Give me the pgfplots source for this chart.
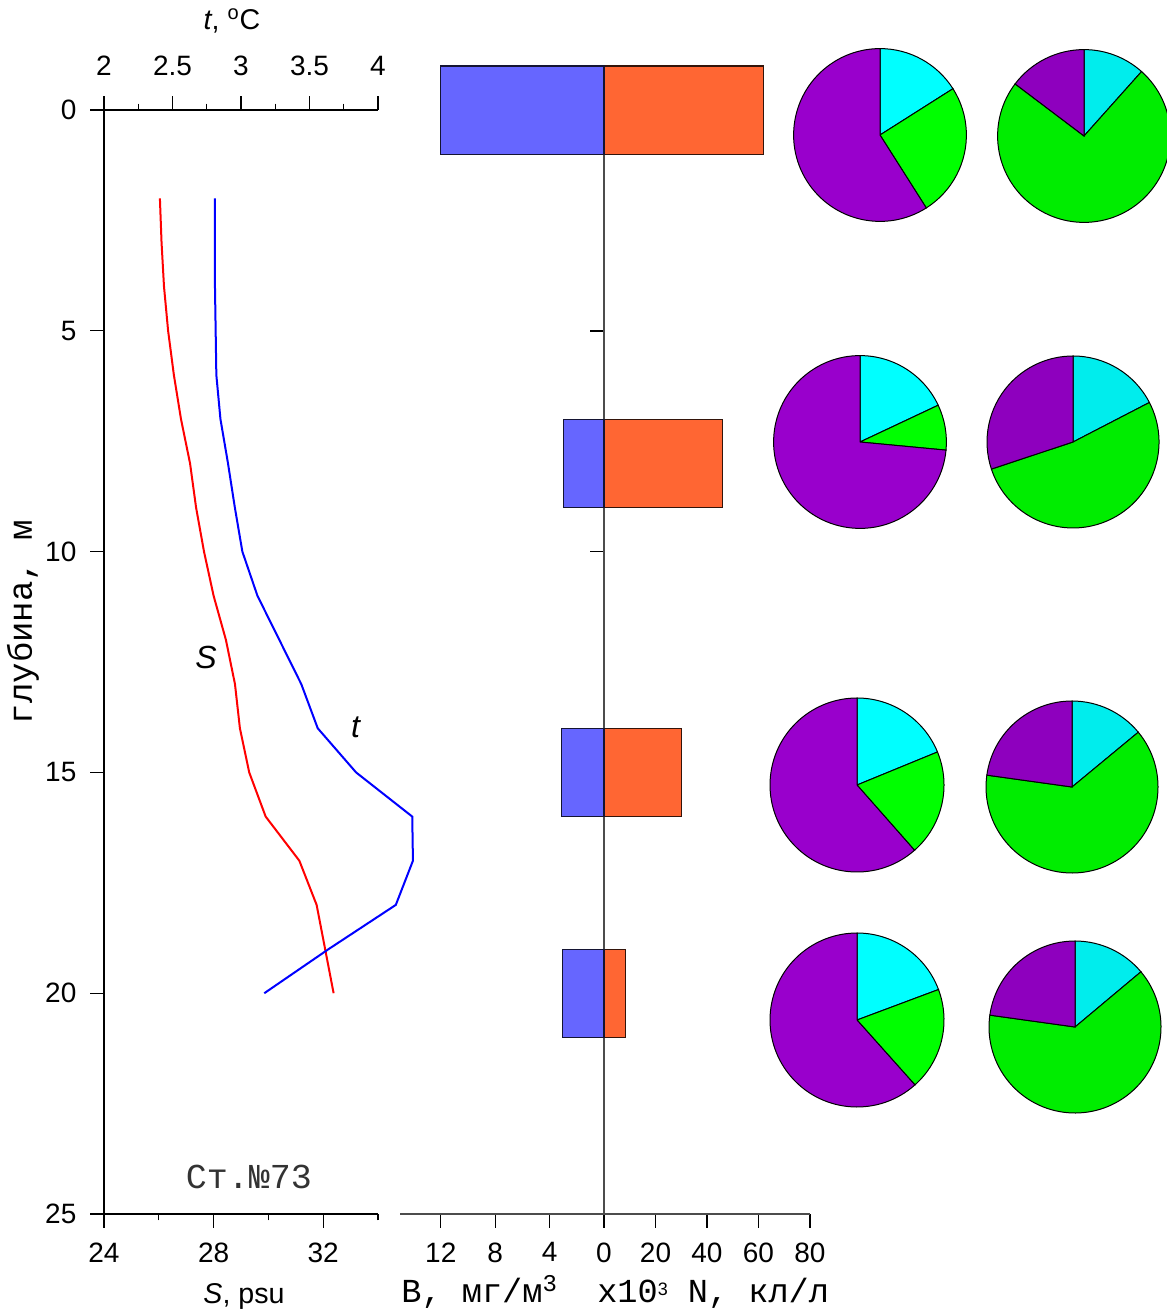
\documentclass[border=0pt]{standalone}
\usepackage{pgfplots}
\pgfplotsset{compat=1.18}
\usepackage{fontspec}
\setmainfont{Liberation Sans}
\newfontfamily\mono{Liberation Mono}

\definecolor{bblue}{HTML}{6666FF}
\definecolor{norange}{HTML}{FF6633}
\definecolor{pcyan}{HTML}{00FFFF}
\definecolor{pgreen}{HTML}{00FF00}
\definecolor{ppurple}{HTML}{9900CC}

% S (psu) and t (deg C) profiles
\pgfplotstableread{
depth S t
2  26.04 2.81
3  26.10 2.81
4  26.19 2.81
5  26.34 2.815
6  26.55 2.82
7  26.81 2.85
8  27.14 2.905
9  27.36 2.955
10 27.65 3.01
11 28.00 3.12
12 28.45 3.28
13 28.78 3.44
14 28.96 3.56
15 29.30 3.84
16 29.90 4.25
17 31.13 4.255
18 31.76 4.13
19 32.07 3.64
20 32.38 3.17
}\prof

% biomass B and abundance N
\pgfplotstableread{
depth B N
0  12.0 62.0
8  3.0  46.0
15 3.15 30.0
20 3.05 8.3
}\bars

% pie: cx cy r cyan% green% (purple = rest), tint
\newcommand{\pie}[6]{%
  \filldraw[fill=pcyan!#6!black,draw=black,line width=0.5pt] (axis cs:#1,#2) -- ++(90:#3)
     arc[start angle=90,end angle={90-3.6*#4},radius=#3] -- cycle;
  \filldraw[fill=pgreen!#6!black,draw=black,line width=0.5pt] (axis cs:#1,#2) -- ++({90-3.6*#4}:#3)
     arc[start angle={90-3.6*#4},end angle={90-3.6*(#4+#5)},radius=#3] -- cycle;
  \filldraw[fill=ppurple!#6!black,draw=black,line width=0.5pt] (axis cs:#1,#2) -- ++({90-3.6*(#4+#5)}:#3)
     arc[start angle={90-3.6*(#4+#5)},end angle=-270,radius=#3] -- cycle;
}

\pgfplotsset{
  every axis/.append style={
    scale only axis, enlargelimits=false, clip=false,
    axis line style={-, line width=0.6pt},
    every tick/.style={line width=0.6pt, black},
    tick align=outside,
    major tick length=6.8pt, minor tick length=3.2pt,
    tick label style={font=\fontsize{14}{16}\selectfont},
    /pgf/number format/assume math mode=true,
  }
}

\begin{document}
\begin{tikzpicture}
\useasboundingbox (0,0) rectangle (583pt,-657.5pt);

% ---- S axis (bottom) + depth axis
\begin{axis}[at={(52pt,-607pt)}, anchor=south west, width=137pt, height=552pt,
  xmin=24, xmax=34, ymin=0, ymax=25, y dir=reverse,
  axis x line*=bottom, axis y line*=left,
  xtick={24,28,32}, minor xtick={26,30,34},
  ytick={0,5,10,15,20,25},
  xticklabel style={yshift=-4pt},
  yticklabel style={xshift=-3.5pt},
]
\addplot[red, line width=1pt] table[x=S, y=depth] {\prof};
\end{axis}

% ---- t axis (top)
\begin{axis}[at={(52pt,-607pt)}, anchor=south west, width=137pt, height=552pt,
  xmin=2, xmax=4, ymin=0, ymax=25, y dir=reverse,
  axis x line*=top, axis y line=none,
  xtick={2,2.5,3,3.5,4}, minor x tick num=1,
  xticklabel style={yshift=7pt},
]
\addplot[blue, line width=1pt] table[x=t, y=depth] {\prof};
\end{axis}

% ---- N axis (right half of bars)
\begin{axis}[at={(302pt,-607pt)}, anchor=south west, width=103pt, height=574pt,
  xmin=0, xmax=80, ymin=-1, ymax=25, y dir=reverse,
  axis x line*=bottom, axis y line*=left,
  axis line style={black!70},
  xtick={0,20,40,60,80}, ytick={5,10,15,20,25}, yticklabels={},
  xticklabel style={yshift=-4pt},
]
\addplot[xbar, bar shift=0pt, bar width=2, fill=norange, draw=black!80!norange, line width=0.6pt]
  table[x=N, y=depth] {\bars};
\end{axis}

% ---- B axis (left half of bars)
\begin{axis}[at={(200pt,-607pt)}, anchor=south west, width=102pt, height=574pt,
  xmin=0, xmax=15, x dir=reverse, ymin=-1, ymax=25, y dir=reverse,
  axis x line*=bottom, axis y line=none,
  axis line style={black!70},
  xtick={4,8,12},
  xticklabel style={yshift=-4pt},
]
\addplot[xbar, bar shift=0pt, bar width=2, fill=bblue, draw=black!80!bblue, line width=0.6pt]
  table[x=B, y=depth] {\bars};
\end{axis}

% ---- pies
\begin{axis}[at={(380pt,0pt)}, anchor=north west, x=0.5pt, y=0.5pt,
  xmin=760, xmax=1166, ymin=-1315, ymax=0, hide axis]
\pie{880}{-135}{43.2pt}{16}{25}{100}
\pie{1084}{-136}{43.2pt}{11.6}{73.7}{93}
\pie{860}{-442}{43.2pt}{18}{8.5}{100}
\pie{1073}{-442}{43pt}{17.4}{52.5}{93}
\pie{857}{-785}{43.5pt}{18.8}{19.7}{100}
\pie{1072}{-787}{43pt}{14}{63.2}{93}
\pie{857}{-1020}{43.5pt}{19.3}{19.1}{100}
\pie{1075}{-1027}{43pt}{13.9}{63.3}{93}
\end{axis}

% ---- labels
\node[font=\fontsize{14.3}{16}\selectfont] at (116pt,-10.5pt) {\textit{t}, \textsuperscript{o}C};
\node[font=\fontsize{14.3}{16}\selectfont] at (122pt,-648pt) {\textit{S}, psu};
\node[font=\fontsize{16}{18}\selectfont] at (103pt,-328.5pt) {\textit{S}};
\node[font=\fontsize{16}{18}\selectfont] at (178pt,-363.5pt) {\textit{t}};
\node[font=\mono\fontsize{17}{19}\selectfont, rotate=90] at (11.5pt,-311pt) {глубина, м};
\node[font=\mono\fontsize{17.5}{19}\selectfont, text=black!80] at (124.5pt,-588.5pt) {Ст.№73};
\node[font=\mono\fontsize{16.8}{18}\selectfont, anchor=west, inner sep=0pt] at (200.5pt,-646pt)
  {B, мг/м{\fontsize{12}{12}\selectfont\raisebox{0.45em}{3}}\ \ x10{\rmfamily\fontsize{9}{10}\selectfont\raisebox{0.4em}{3}} N, кл/л};
\end{tikzpicture}
\end{document}
